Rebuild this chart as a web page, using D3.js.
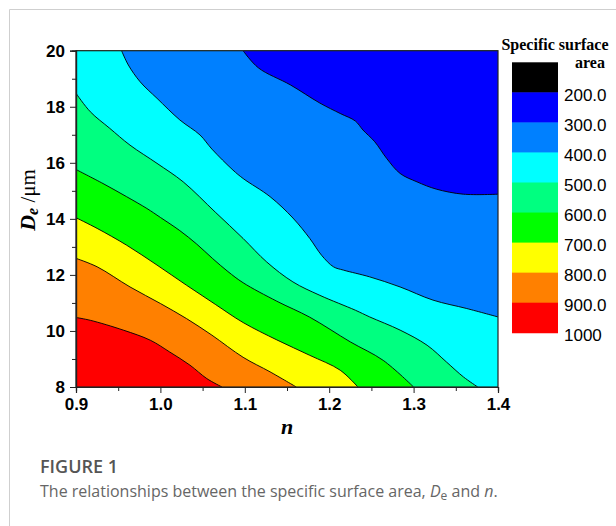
<!DOCTYPE html>
<html>
<head>
<meta charset="utf-8">
<script src="https://cdn.jsdelivr.net/npm/d3@7"></script>
<style>
  html, body { margin: 0; padding: 0; background: #fff; }
  svg { display: block; }
</style>
</head>
<body>
<svg id="chart" width="616" height="526"></svg>
<script>
// Axis ticks
const nTicks = [0.9, 1.0, 1.1, 1.2, 1.3, 1.4];
const nMinorTicks = [0.95, 1.05, 1.15, 1.25, 1.35];
const deTicks = [8, 10, 12, 14, 16, 18, 20];
const deMinorTicks = [9, 11, 13, 15, 17, 19];

// Colour scale of the specific surface area bands (low to high)
const legendLabels = ["200.0", "300.0", "400.0", "500.0", "600.0", "700.0", "800.0", "900.0", "1000"];
const bandColors = ["#000000", "#0000ff", "#0080ff", "#00ffff", "#00ff80", "#00ff00", "#ffff00", "#ff8000", "#ff0000"];

// Iso-lines of specific surface area, as [n, De] points
const contour300 = [[1.098,20],[1.116,19.39],[1.154,18.78],[1.189,18.13],[1.213,17.76],[1.231,17.49],[1.240,17.17],[1.254,16.75],[1.268,16.16],[1.284,15.62],[1.304,15.32],[1.327,15.06],[1.359,14.88],[1.4,14.88]];
const contour400 = [[0.954,20],[0.962,19.49],[0.976,18.89],[0.996,18.30],[1.023,17.53],[1.047,16.99],[1.061,16.49],[1.086,15.74],[1.098,15.44],[1.130,14.79],[1.157,14.03],[1.177,13.30],[1.191,12.70],[1.205,12.29],[1.217,12.17],[1.248,11.93],[1.284,11.57],[1.323,11.10],[1.363,10.80],[1.4,10.50]];
const contour500 = [[0.9,18.48],[0.917,17.82],[0.940,17.23],[0.964,16.63],[0.996,15.98],[1.027,15.32],[1.065,14.24],[1.098,13.30],[1.126,12.46],[1.157,11.75],[1.189,11.27],[1.231,10.74],[1.248,10.50],[1.284,10.03],[1.316,9.49],[1.339,8.89],[1.359,8.36],[1.376,8.0]];
const contour600 = [[0.9,15.76],[0.932,15.26],[0.960,14.79],[0.984,14.37],[1.0,14.05],[1.023,13.58],[1.043,13.10],[1.062,12.58],[1.080,12.12],[1.098,11.72],[1.138,11.06],[1.177,10.49],[1.225,9.61],[1.264,8.95],[1.3,8.0]];
const contour700 = [[0.9,14.04],[0.925,13.66],[0.960,13.06],[0.996,12.35],[1.031,11.63],[1.065,10.95],[1.098,10.30],[1.138,9.68],[1.177,9.13],[1.213,8.60],[1.234,8.0]];
const contour800 = [[0.9,12.59],[0.925,12.29],[0.964,11.57],[1.0,10.98],[1.031,10.44],[1.061,9.85],[1.098,9.06],[1.130,8.54],[1.161,8.0]];
const contour900 = [[0.9,10.48],[0.917,10.38],[0.956,10.03],[0.988,9.67],[1.011,9.25],[1.035,8.78],[1.055,8.30],[1.073,8.0]];

// Each iso-line bounds the band of lower values lying above/right of it
const isoLines = [
  { pts: contour900, color: bandColors[7] },
  { pts: contour800, color: bandColors[6] },
  { pts: contour700, color: bandColors[5] },
  { pts: contour600, color: bandColors[4] },
  { pts: contour500, color: bandColors[3] },
  { pts: contour400, color: bandColors[2] },
  { pts: contour300, color: bandColors[1] }
];

const svg = d3.select("#chart");

// Outer figure frame
svg.append("path")
  .attr("d", "M9.5,526V9.5H616")
  .attr("fill", "none")
  .attr("stroke", "#cfcfcf")
  .attr("stroke-width", 1);

const x = d3.scaleLinear().domain([0.9, 1.4]).range([76, 498]);
const y = d3.scaleLinear().domain([8, 20]).range([387, 50.7]);

svg.append("defs").append("clipPath").attr("id", "plotClip")
  .append("rect")
  .attr("x", x(0.9)).attr("y", y(20))
  .attr("width", x(1.4) - x(0.9)).attr("height", y(8) - y(20));

const plot = svg.append("g").attr("clip-path", "url(#plotClip)");

// Highest band fills the whole plot first
plot.append("rect")
  .attr("x", x(0.9)).attr("y", y(20))
  .attr("width", x(1.4) - x(0.9)).attr("height", y(8) - y(20))
  .attr("fill", bandColors[8]);

const lineGen = d3.line()
  .x(d => x(d[0])).y(d => y(d[1]))
  .curve(d3.curveCatmullRom.alpha(0.5));

function bandPath(pts) {
  const first = pts[0], last = pts[pts.length - 1];
  return lineGen(pts) +
    `L${x(1.6)},${y(last[1])}L${x(1.6)},${y(22)}L${x(first[0])},${y(22)}Z`;
}

plot.selectAll("path.band")
  .data(isoLines)
  .join("path")
  .attr("class", "band")
  .attr("d", d => bandPath(d.pts))
  .attr("fill", d => d.color);

plot.selectAll("path.iso")
  .data(isoLines)
  .join("path")
  .attr("class", "iso")
  .attr("d", d => lineGen(d.pts))
  .attr("fill", "none")
  .attr("stroke", "#000")
  .attr("stroke-width", 0.9);

// Plot frame
svg.append("rect")
  .attr("x", x(0.9)).attr("y", y(20))
  .attr("width", x(1.4) - x(0.9)).attr("height", y(8) - y(20))
  .attr("fill", "none")
  .attr("stroke", "#222")
  .attr("stroke-width", 1.2);

const tickFont = "'Liberation Sans', Arial, sans-serif";

// Bottom axis
const xMinor = svg.append("g").attr("transform", `translate(0,${y(8)})`)
  .call(d3.axisBottom(x).tickValues(nMinorTicks).tickSize(4).tickFormat(""));
const xMajor = svg.append("g").attr("transform", `translate(0,${y(8)})`)
  .call(d3.axisBottom(x).tickValues(nTicks).tickSize(6).tickPadding(5).tickFormat(d3.format(".1f")));

// Left axis
const yMinor = svg.append("g").attr("transform", `translate(${x(0.9)},0)`)
  .call(d3.axisLeft(y).tickValues(deMinorTicks).tickSize(4).tickFormat(""));
const yMajor = svg.append("g").attr("transform", `translate(${x(0.9)},0)`)
  .call(d3.axisLeft(y).tickValues(deTicks).tickSize(6).tickPadding(5).tickFormat(d3.format("d")));

[xMinor, xMajor, yMinor, yMajor].forEach(g => {
  g.select(".domain").attr("stroke", "#222").attr("stroke-width", 1.2);
  g.selectAll(".tick line").attr("stroke", "#222").attr("stroke-width", 1);
  g.selectAll(".tick text")
    .attr("fill", "#000")
    .style("font-family", tickFont)
    .style("font-weight", "bold")
    .style("font-size", "17px");
});

// Axis titles
svg.append("text")
  .attr("x", (x(0.9) + x(1.4)) / 2)
  .attr("y", 434)
  .attr("text-anchor", "middle")
  .style("font-family", "'Liberation Serif', 'Times New Roman', serif")
  .style("font-weight", "bold")
  .style("font-style", "italic")
  .style("font-size", "22px")
  .text("n");

const yTitle = svg.append("text")
  .attr("transform", "translate(35,200) rotate(-90)")
  .attr("text-anchor", "middle")
  .style("font-family", "'Liberation Serif', 'Times New Roman', serif")
  .style("font-size", "21px");
yTitle.append("tspan").style("font-weight", "bold").style("font-style", "italic")
  .style("font-size", "22px").text("D");
yTitle.append("tspan").style("font-weight", "bold").style("font-style", "italic")
  .style("font-size", "16px").attr("dy", 3).text("e");
yTitle.append("tspan").attr("dy", -3).text(" /\u03bcm");

// Legend
const legTop = 62.3, legStep = 30.05;
const legend = svg.append("g");
legend.selectAll("rect")
  .data(bandColors)
  .join("rect")
  .attr("x", 512)
  .attr("y", (d, i) => legTop + i * legStep)
  .attr("width", 46)
  .attr("height", legStep + 0.5)
  .attr("fill", d => d);
legend.selectAll("text.lab")
  .data(legendLabels)
  .join("text")
  .attr("class", "lab")
  .attr("x", 564)
  .attr("y", (d, i) => legTop + (i + 1) * legStep + 2.5)
  .attr("dy", "0.36em")
  .style("font-family", tickFont)
  .style("font-size", "17px")
  .attr("fill", "#000")
  .text(d => d);
legend.append("text")
  .attr("x", 555).attr("y", 50)
  .attr("text-anchor", "middle")
  .style("font-family", "'Liberation Serif', 'Times New Roman', serif")
  .style("font-weight", "bold")
  .style("font-size", "16px")
  .text("Specific surface");
legend.append("text")
  .attr("x", 590).attr("y", 68)
  .attr("text-anchor", "middle")
  .style("font-family", "'Liberation Serif', 'Times New Roman', serif")
  .style("font-weight", "bold")
  .style("font-size", "16px")
  .text("area");

// Caption
const capFont = "'Open Sans', 'Noto Sans', sans-serif";
svg.append("text")
  .attr("x", 40).attr("y", 473)
  .style("font-family", capFont)
  .style("font-weight", "600")
  .style("font-size", "18px")
  .attr("fill", "#555")
  .text("FIGURE 1");
const cap = svg.append("text")
  .attr("x", 40).attr("y", 497)
  .style("font-family", capFont)
  .style("font-size", "16px")
  .attr("fill", "#666");
cap.append("tspan").text("The relationships between the specific surface area, ");
cap.append("tspan").style("font-style", "italic").text("D");
cap.append("tspan").style("font-size", "12px").attr("dy", 3).text("e");
cap.append("tspan").attr("dy", -3).text(" and ");
cap.append("tspan").style("font-style", "italic").text("n");
cap.append("tspan").text(".");
</script>
</body>
</html>
